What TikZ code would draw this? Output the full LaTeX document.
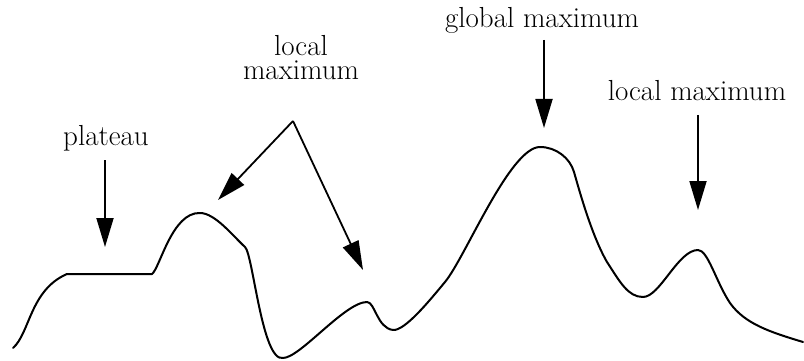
\documentclass[tikz,border=0pt]{standalone}
\usetikzlibrary{arrows.meta}
\begin{document}
\begin{tikzpicture}[x=1pt,y=-1pt,
  curve/.style={line width=2pt,line join=round,line cap=round},
  pointer/.style={line width=1.8pt,-{Triangle[length=29pt,width=17pt]}},
  lbl/.style={inner sep=0pt,anchor=base,font=\fontsize{29}{24}\selectfont}]
\useasboundingbox (0,0) rectangle (804,361);
% landscape
\draw[curve] (13,348) .. controls (30,333) and (30,290) .. (67,274)
  -- (152,274)
  .. controls (160,268) and (172,212) .. (200,213)
  .. controls (215,213) and (233,236) .. (245,247)
  .. controls (253,254) and (262,362) .. (283,358)
  .. controls (300,358) and (345,302) .. (367,302)
  .. controls (375,302) and (377,328) .. (393,330)
  .. controls (405,331) and (430,300) .. (445,282)
  .. controls (465,258) and (510,147) .. (540,147)
  .. controls (556,147) and (570,158) .. (574,172)
  .. controls (580,193) and (592,236) .. (607,262)
  .. controls (620,282) and (628,297) .. (643,297)
  .. controls (660,297) and (678,250) .. (698,250)
  .. controls (708,250) and (716,282) .. (730,303)
  .. controls (745,324) and (770,332) .. (803,342);
% labels
\node[lbl] (plateau) at (106,145) {plateau};
\node[lbl,align=center] (lmax1) at (301,80) {local\\maximum};
\node[lbl] (gmax) at (542,28) {global maximum};
\node[lbl] (lmax2) at (697,100) {local maximum};
% arrow points
\coordinate (pt) at (105,160);
\coordinate (pth) at (105,247);
\coordinate (apex) at (293,121);
\coordinate (lt) at (218,200);
\coordinate (rt) at (363,270);
\coordinate (gt) at (544,40);
\coordinate (gth) at (544,128);
\coordinate (r2) at (698,115);
\coordinate (r2h) at (698,210);
\draw[pointer] (pt) -- (pth);
\draw[pointer] (apex) -- (lt);
\draw[pointer] (apex) -- (rt);
\draw[pointer] (gt) -- (gth);
\draw[pointer] (r2) -- (r2h);
\end{tikzpicture}
\end{document}
